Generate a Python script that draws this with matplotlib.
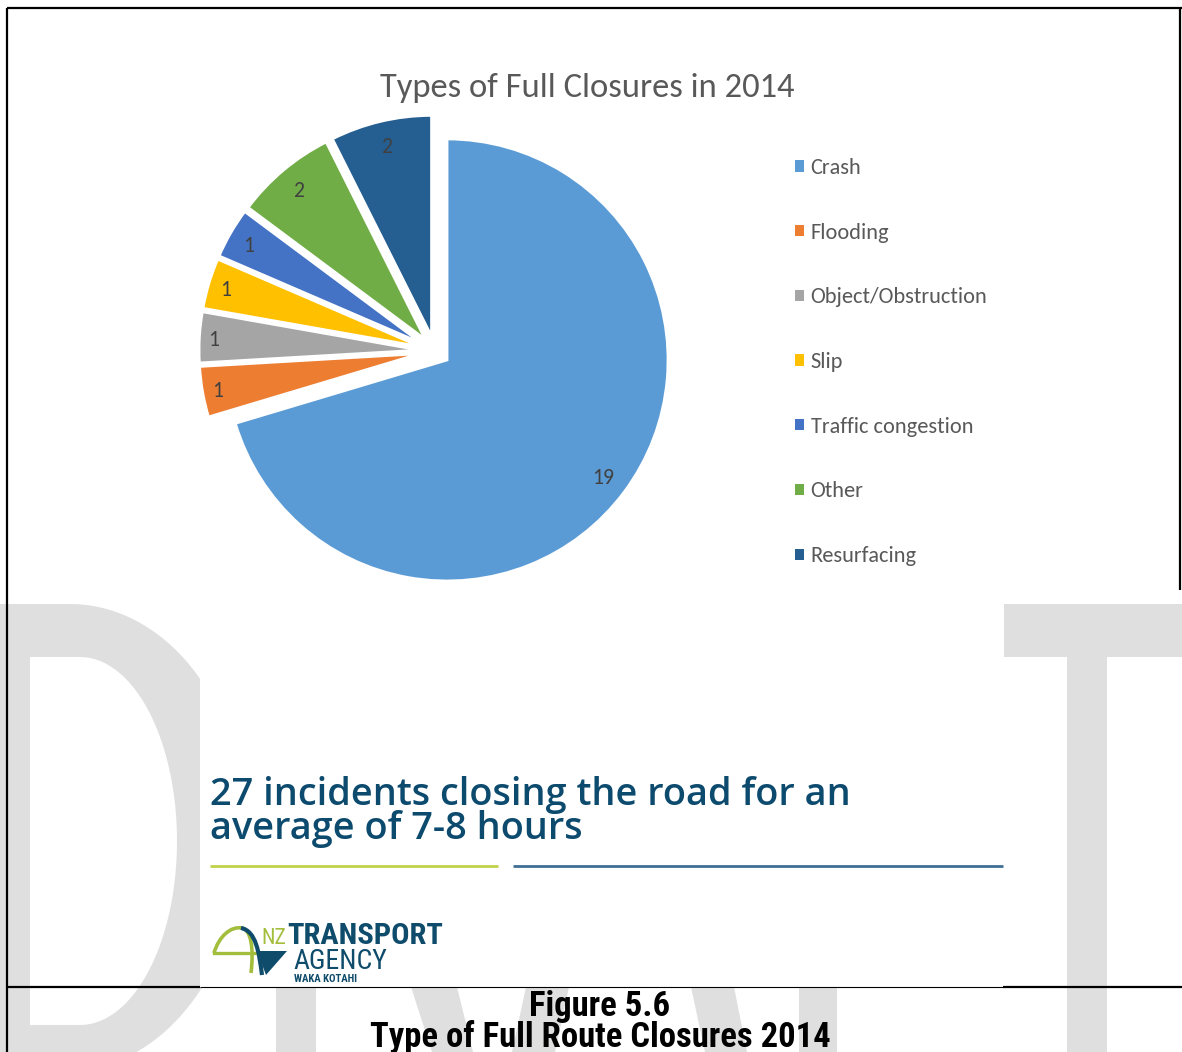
import matplotlib
matplotlib.use("Agg")
import matplotlib.pyplot as plt
import numpy as np
from matplotlib import font_manager
from matplotlib.font_manager import FontProperties
from matplotlib.patches import Polygon, Rectangle, PathPatch, Patch
from matplotlib.path import Path

# ---- data -------------------------------------------------------------
categories = ["Crash", "Flooding", "Object/Obstruction", "Slip",
              "Traffic congestion", "Other", "Resurfacing"]
closures = [19, 1, 1, 1, 1, 2, 2]
slice_colors = ["#5B9BD5", "#ED7D31", "#A5A5A5", "#FFC000",
                "#4472C4", "#70AD47", "#255E91"]
chart_title = "Types of Full Closures in 2014"
headline = ["27 incidents closing the road for an", "average of 7-8 hours"]
caption = ["Figure 5.6", "Type of Full Route Closures 2014"]

# ---- fonts ------------------------------------------------------------
available = {f.name for f in font_manager.fontManager.ttflist}


def pick(*names):
    for n in names:
        if n in available:
            return n
    return "DejaVu Sans"


f_chart = pick("Carlito", "Lato", "Open Sans")
f_head = pick("Open Sans", "Lato")
f_narrow = pick("Liberation Sans Narrow", "Roboto Condensed", "Roboto", "DejaVu Sans")

W, H = 1182, 1052
fig = plt.figure(figsize=(W / 100, H / 100), dpi=100)
renderer = fig.canvas.get_renderer()

page = fig.add_axes([0, 0, 1, 1])
page.set_xlim(0, W)
page.set_ylim(H, 0)
page.axis("off")


def text_width(s, size, **kw):
    t = page.text(0, 0, s, fontsize=size, **kw)
    w = t.get_window_extent(renderer=renderer).width
    t.remove()
    return w


def fit_size(s, width, **kw):
    return 20 * width / text_width(s, 20, **kw)


def fit_text(ax, x, y, s, width, **kw):
    return ax.text(x, y, s, fontsize=fit_size(s, width, **kw), **kw)


def line_gap(size, pixels, **kw):
    # linespacing factor giving the requested baseline-to-baseline distance
    fp = FontProperties(size=size, family=kw.get("family"), weight=kw.get("fontweight", "normal"))
    _, h, d = renderer.get_text_width_height_descent("lp", fp, ismath=False)
    return (pixels - d) / (h - d)


# ---- DRAFT watermark behind the slide --------------------------------
wm = "#DFDFDF"
t = np.linspace(-np.pi / 2, 0, 40)
top_arc = np.column_stack([70 + 175 * np.cos(t), 830 + 226 * np.sin(t)])
t = np.linspace(0, np.pi / 2, 40)
bot_arc = np.column_stack([70 + 175 * np.cos(t), 830 + 240 * np.sin(t)])
page.add_patch(Polygon(np.vstack([[0, 604], top_arc, bot_arc, [0, 1070]]),
                       closed=True, fc=wm, ec="none", zorder=1))
t = np.linspace(-np.pi / 2, np.pi / 2, 60)
inner = np.column_stack([80 + 97 * np.cos(t), 841 + 184 * np.sin(t)])
page.add_patch(Polygon(np.vstack([[30, 657], inner, [30, 1025]]),
                       closed=True, fc="white", ec="none", zorder=1.1))


def slanted(x0a, x0b, x1a, x1b, ya=987, yb=1052):
    # band given by its edges at two heights, extended past the page edge
    sa = (x1a - x0a) / (yb - ya)
    sb = (x1b - x0b) / (yb - ya)
    y_top, y_bot = 900, 1070
    return Polygon([[x0a + sa * (y_top - ya), y_top], [x0b + sb * (y_top - ya), y_top],
                    [x0b + sb * (y_bot - ya), y_bot], [x0a + sa * (y_bot - ya), y_bot]],
                   closed=True, fc=wm, ec="none", zorder=1)


page.add_patch(slanted(276, 316, 276, 316))      # R stem
page.add_patch(slanted(411, 457, 432, 473))      # R leg
page.add_patch(slanted(526, 569, 512, 555))      # A left leg
page.add_patch(slanted(691, 734, 705, 747))      # A right leg
page.add_patch(slanted(799, 837, 799, 837))      # F stem
page.add_patch(Rectangle((1004, 604), 200, 53, fc=wm, ec="none", zorder=1))   # T bar
page.add_patch(Rectangle((1067, 604), 40, 470, fc=wm, ec="none", zorder=1))   # T stem

# slide picture area (white) sits over the watermark
page.add_patch(Rectangle((200, 9), 803, 978, fc="white", ec="none", zorder=2))

# ---- page borders -----------------------------------------------------
bk = dict(color="black", zorder=6, solid_capstyle="butt")
page.plot([7, W], [8, 8], lw=1.6, **bk)
page.plot([7, 7], [8, H], lw=1.6, **bk)
page.plot([1180, 1180], [8, 590], lw=1.6, **bk)
page.plot([7, 200], [987, 987], lw=1.6, **bk)
page.plot([200, 1003], [987, 987], lw=0.8, **bk)
page.plot([1003, W], [987, 987], lw=1.6, **bk)

# ---- chart title --------------------------------------------------------
fit_text(page, 587, 97, chart_title, 415, ha="center", va="baseline",
         color="#595959", family=f_chart, zorder=5)

# ---- pie ----------------------------------------------------------------
cx, cy, r = 435.0, 351.0, 221.0          # centre (px, y down) and radius (px)
pie_ax = fig.add_axes([0, 0, 1, 1])
pie_ax.patch.set_alpha(0)
total = sum(closures)
wedges, _, autotexts = pie_ax.pie(
    closures, colors=slice_colors, startangle=90, counterclock=False,
    explode=[15 / r] * len(closures), radius=1.0, center=(0, 0),
    autopct=lambda p: f"{p * total / 100:.0f}", pctdistance=0.89,
    wedgeprops=dict(edgecolor="white", linewidth=2.0),
    textprops=dict(color="#404040", family=f_chart))
pie_ax.set_xlim(-cx / r, (W - cx) / r)
pie_ax.set_ylim(-(H - cy) / r, cy / r)
pie_ax.set_aspect("auto")
pie_ax.axis("off")

lab_fs = fit_size("19", 22, family=f_chart)
for w, a, v in zip(wedges, autotexts, closures):
    a.set_fontsize(lab_fs)
    ang = np.deg2rad(0.5 * (w.theta1 + w.theta2))
    # inside-end placement: labels beside the flat left rim sit a little deeper out
    dist = 0.88 if v / total > 0.5 else 0.89 + 0.045 * np.cos(ang) ** 8
    a.set_position((w.center[0] + dist * np.cos(ang),
                    w.center[1] + dist * np.sin(ang) - 2 / r))

# ---- legend -----------------------------------------------------------
leg_fs = fit_size("Object/Obstruction", 177, family=f_chart)
fs_px = leg_fs * 100 / 72
handles = [Patch(facecolor=c, edgecolor="none") for c in slice_colors]


def build_legend(spacing, top):
    return pie_ax.legend(
        handles, categories, loc="upper left",
        bbox_to_anchor=(795 / W, 1 - top / H), bbox_transform=fig.transFigure,
        frameon=False, labelcolor="#595959",
        prop=dict(family=f_chart, size=leg_fs),
        handlelength=8.5 / fs_px, handleheight=8.5 / fs_px,
        handletextpad=0.32, labelspacing=spacing, borderpad=0, borderaxespad=0)


spacing, top = 2.0, 150
leg = build_legend(spacing, top)
fig.canvas.draw()
cents = [p.get_window_extent(renderer).y0 + p.get_window_extent(renderer).height / 2
         for p in leg.get_patches()]
step = (cents[0] - cents[-1]) / (len(cents) - 1)
spacing += (64.67 - step) / fs_px
leg.remove()
leg = build_legend(spacing, top)
fig.canvas.draw()
p0 = leg.get_patches()[0].get_window_extent(renderer)
first = H - (p0.y0 + p0.height / 2)
top += 166 - first
leg.remove()
leg = build_legend(spacing, top)

# ---- headline and rules -----------------------------------------------
head_kw = dict(family=f_head, fontweight="semibold")
head_fs = fit_size(headline[0], 640, **head_kw)
page.text(210, 839, "\n".join(headline), ha="left", va="baseline",
          color="#0C4A6E", fontsize=head_fs, zorder=5,
          linespacing=line_gap(head_fs, 34, **head_kw), **head_kw)
page.plot([210, 498], [866, 866], color="#C2D14A", lw=2.0, zorder=5, solid_capstyle="butt")
page.plot([513, 1003], [866, 866], color="#3F6F94", lw=2.0, zorder=5, solid_capstyle="butt")

# ---- agency logo --------------------------------------------------------
green, navy = "#A3BE3C", "#0F4C6B"
C4 = Path.CURVE4
green_path = Path([(214, 953), (219, 936), (231, 926), (242, 928),
                   (251, 930), (254, 948), (251, 973)],
                  [Path.MOVETO, C4, C4, C4, C4, C4, C4])
page.add_patch(PathPatch(green_path, fc="none", ec=green, lw=2.6, zorder=5))
page.plot([214, 258], [953, 953], color=green, lw=2.4, zorder=5)
navy_path = Path([(241, 928), (256, 931), (259, 952), (262, 975)],
                 [Path.MOVETO, C4, C4, C4])
page.add_patch(PathPatch(navy_path, fc="none", ec=navy, lw=3.0, zorder=5.1))
page.add_patch(Polygon([(257, 951), (287, 951), (266, 975)], closed=True,
                       fc=navy, ec="none", zorder=5.1))
fit_text(page, 261, 944, "NZ", 25, ha="left", va="baseline", color=green,
         family=f_narrow, zorder=5)
fit_text(page, 287, 944, "TRANSPORT", 156, ha="left", va="baseline", color=navy,
         family=f_narrow, fontweight="bold", zorder=5)
fit_text(page, 293, 969, "AGENCY", 94, ha="left", va="baseline", color=navy,
         family=f_narrow, zorder=5)
fit_text(page, 294, 982, "WAKA KOTAHI", 64, ha="left", va="baseline", color=navy,
         family=f_narrow, fontweight="bold", zorder=5)

# ---- figure caption ---------------------------------------------------
cap_kw = dict(family=f_narrow, fontweight="bold")
cap_fs = fit_size(caption[1], 461, **cap_kw)
page.text(600, 1047, "\n".join(caption), ha="center", va="baseline",
          multialignment="center", color="black", fontsize=cap_fs, zorder=5,
          linespacing=line_gap(cap_fs, 30, **cap_kw), **cap_kw)

fig.savefig("out.png", dpi=100)
